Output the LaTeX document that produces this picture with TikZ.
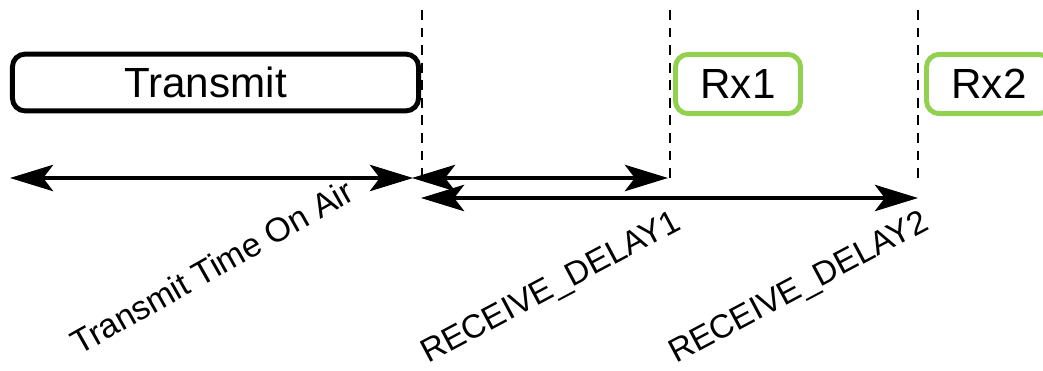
\documentclass[tikz,border=0pt]{standalone}
\usepackage{fontspec}
\setmainfont{Liberation Sans}
\usetikzlibrary{arrows.meta}
\definecolor{rxgreen}{RGB}{146,208,80}
\tikzset{slot/.style={draw, rounded corners=9pt, line width=3.5pt, minimum height=1.42cm,
   inner sep=0pt, font=\fontsize{30}{36}\selectfont},
 rxslot/.style={slot, draw=rxgreen, minimum width=3.125cm, minimum height=1.48cm},
 marker/.style={line width=2.1pt, dash pattern=on 7pt off 5.5pt},
 span/.style={>={Stealth[length=1.08cm, width=0.66cm, inset=0.25cm]}, <->, line width=2.2pt},
 spanlabel/.style={rotate=28, anchor=base west, inner sep=0pt, font=\fontsize{23.5}{28}\selectfont},
 }

\begin{document}
\begin{tikzpicture}[x=0.025cm, y=0.025cm]
    \useasboundingbox (0,0) rectangle (1043,370);
    % slots
    \node[slot, minimum width=10.15cm] (tx) at (215.5,287.5) {\hspace*{-0.5cm}Transmit};
    \node[rxslot] (rx1) at (738,286) {Rx1};
    \node[rxslot] (rx2) at (989,286) {Rx2};
    % window markers
    \coordinate (m0top) at (422,360);
    \coordinate (m0bot) at (422,192);
    \coordinate (m1top) at (670,360);
    \coordinate (m1bot) at (670,192);
    \coordinate (m2top) at (918,360);
    \coordinate (m2bot) at (918,192);
    \draw[marker] (m0top) -- (m0bot);
    \draw[marker] (m1top) -- (m1bot);
    \draw[marker] (m2top) -- (m2bot);
    % spans
    \coordinate (airstart) at (10,192);
    \coordinate (airend) at (413,192);
    \coordinate (d1start) at (412,192);
    \coordinate (d1end) at (668,192);
    \coordinate (d2start) at (421,172);
    \coordinate (d2end) at (918,172);
    \draw[span] (airstart) -- (airend);
    \draw[span] (d1start) -- (d1end);
    \draw[span] (d2start) -- (d2end);
    % labels
    \node[spanlabel, rotate=1.5, font=\fontsize{24}{29}\selectfont] (airlabel) at (79,14) {Transmit Time On Air};
    \node[spanlabel] (d1label) at (428,6) {RECEIVE\_DELAY1};
    \node[spanlabel] (d2label) at (676,6) {RECEIVE\_DELAY2};
\end{tikzpicture}
\end{document}
